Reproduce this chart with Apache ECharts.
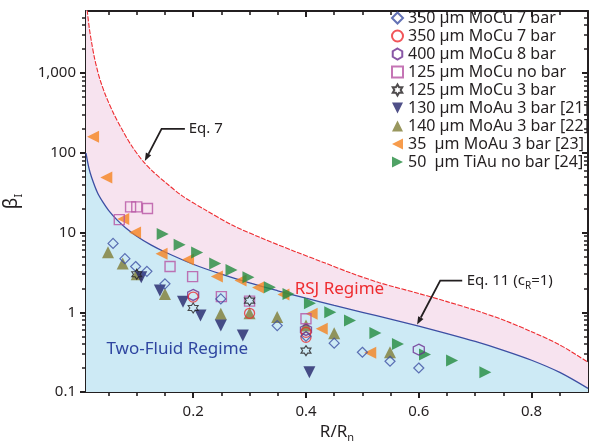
<!DOCTYPE html>
<html>
<head>
<meta charset="utf-8">
<script src="https://cdn.jsdelivr.net/npm/echarts@6/dist/echarts.min.js"></script>
<style>
  html, body { margin: 0; padding: 0; background: #ffffff; }
  #chart { width: 598px; height: 442px; }
</style>
</head>
<body>
<div id="chart"></div>
<script>
// ---- legend labels (two entries share the same text) ----
const seriesKeys = ['d350', 'c350', 'h400', 's125', 'x125', 'v130', 'u140', 'l35', 'r50'];
const seriesLabels = [
  '350 µm MoCu 7 bar',
  '350 µm MoCu 7 bar',
  '400 µm MoCu 8 bar',
  '125 µm MoCu no bar',
  '125 µm MoCu 3 bar',
  '130 µm MoAu 3 bar [21]',
  '140 µm MoAu 3 bar [22]',
  '35  µm MoAu 3 bar [23]',
  '50  µm TiAu no bar [24]'
];

// ---- measured points: [R/Rn, beta] ----
const moCu350Diamond = [[0.058, 7.3], [0.079, 4.7], [0.098, 3.75], [0.118, 3.26], [0.15, 2.27], [0.249, 1.47],
  [0.349, 0.68], [0.4, 0.5], [0.45, 0.41], [0.5, 0.315], [0.549, 0.243], [0.6, 0.2]];
const moCu350Circle = [[0.2, 1.55], [0.3, 0.97], [0.4, 0.56], [0.4, 0.485]];
const moCu400Hex = [[0.2, 1.65], [0.4, 0.6], [0.6, 0.34]];
const moCu125NoBar = [[0.069, 14.5], [0.089, 21], [0.1, 21], [0.119, 20], [0.159, 3.75], [0.199, 2.8],
  [0.25, 1.57], [0.3, 1.38], [0.4, 0.83]];
const moCu125Bar3 = [[0.1, 3.0], [0.2, 1.13], [0.3, 1.4], [0.4, 0.33]];
const moAu130 = [[0.108, 2.75], [0.141, 1.87], [0.182, 1.35], [0.213, 0.91], [0.249, 0.68], [0.288, 0.51], [0.406, 0.177]];
const moAu140 = [[0.049, 5.65], [0.075, 4.1], [0.1, 3.0], [0.15, 1.7], [0.249, 0.955], [0.3, 0.97], [0.349, 0.87],
  [0.4, 0.68], [0.45, 0.546], [0.549, 0.315]];
const moAu35 = [[0.0225, 159], [0.046, 49], [0.076, 14.8], [0.097, 10], [0.144, 5.4], [0.191, 4.6], [0.242, 2.8],
  [0.284, 2.5], [0.315, 2.05], [0.36, 1.67], [0.41, 0.96], [0.428, 0.62], [0.514, 0.31]];
const tiAu50 = [[0.146, 9.6], [0.176, 7.05], [0.207, 5.6], [0.239, 4.1], [0.268, 3.4], [0.298, 2.75], [0.336, 2.06],
  [0.369, 1.7], [0.407, 1.3], [0.443, 1.0], [0.478, 0.79], [0.523, 0.55], [0.563, 0.40], [0.611, 0.295],
  [0.659, 0.248], [0.718, 0.177]];

// ---- boundary curves ----
const eq7Curve = [[0.01, 9000], [0.0125, 5800], [0.016, 3600], [0.02, 2400], [0.025, 1550], [0.03, 1100],
  [0.035, 820], [0.045, 520], [0.06, 300], [0.075, 190], [0.09, 125], [0.11, 80], [0.13, 57], [0.15, 43],
  [0.18, 29], [0.22, 19.5], [0.27, 12.3], [0.32, 8.6], [0.38, 5.8], [0.43, 4.25], [0.48, 3.1], [0.53, 2.35],
  [0.6, 1.72], [0.65, 1.36], [0.7, 1.06], [0.75, 0.8], [0.8, 0.57], [0.85, 0.39], [0.9, 0.236]];
const eq11Curve = [[0.01, 99], [0.015, 65], [0.02, 49], [0.03, 32], [0.04, 24], [0.05, 19], [0.065, 14.4],
  [0.08, 11.5], [0.1, 9.0], [0.125, 7.0], [0.15, 5.7], [0.2, 4.0], [0.25, 3.0], [0.3, 2.33], [0.35, 1.86],
  [0.4, 1.5], [0.45, 1.22], [0.5, 1.0], [0.55, 0.82], [0.6, 0.67], [0.65, 0.54], [0.7, 0.43], [0.75, 0.333],
  [0.8, 0.25], [0.85, 0.176], [0.9, 0.111]];

// ---- tick values ----
const xMinorTicks = [0.05, 0.1, 0.15, 0.25, 0.3, 0.35, 0.45, 0.5, 0.55, 0.65, 0.7, 0.75, 0.85];
const xMajorTicks = [0.2, 0.4, 0.6, 0.8];
const yMajorTicks = [0.1, 1, 10, 100, 1000];
const yMinorTicks = [0.2, 0.3, 0.4, 0.5, 0.6, 0.7, 0.8, 0.9, 2, 3, 4, 5, 6, 7, 8, 9,
  20, 30, 40, 50, 60, 70, 80, 90, 200, 300, 400, 500, 600, 700, 800, 900, 2000, 3000, 4000, 5000];

const INK = '#231f20';
const FONT = 'Noto Sans';
const X_MIN = 0.01, X_MAX = 0.9, Y_MIN = 0.1, Y_MAX = 6000;

// marker outlines
function starPath() {
  const pts = [];
  for (let k = 0; k < 12; k++) {
    const r = k % 2 === 0 ? 10 : 5.77;
    const a = (-90 + k * 30) * Math.PI / 180;
    pts.push((r * Math.cos(a)).toFixed(2) + ',' + (r * Math.sin(a)).toFixed(2));
  }
  return 'path://M' + pts.join(' L') + ' Z';
}
const HEX = 'path://M0,-10 L8.66,-5 L8.66,5 L0,10 L-8.66,5 L-8.66,-5 Z';
const TRI_LEFT = 'path://M10,0 L10,10 L0,5 Z';
const TRI_RIGHT = 'path://M0,0 L10,5 L0,10 Z';
const TRI_DOWN = 'path://M0,0 L10,0 L5,10 Z';

function hollow(key, data, symbol, size, color, width) {
  return {
    name: key, type: 'scatter', data: data, symbol: symbol, symbolSize: size,
    itemStyle: { color: 'rgba(255,255,255,0)', borderColor: color, borderWidth: width || 1.2 },
    z: 5
  };
}
function solid(key, data, symbol, size, color) {
  return {
    name: key, type: 'scatter', data: data, symbol: symbol, symbolSize: size,
    itemStyle: { color: color }, z: 4
  };
}

const chart = echarts.init(document.getElementById('chart'), null, { renderer: 'canvas' });

const xBase = { type: 'value', min: X_MIN, max: X_MAX, splitLine: { show: false } };
const yBase = { type: 'log', logBase: 10, min: Y_MIN, max: Y_MAX, splitLine: { show: false } };
const axisLineStyle = { show: true, lineStyle: { color: INK, width: 2 } };
const tickStyle = function (values, len, width, inside) {
  return { show: true, inside: !!inside, customValues: values, length: len, lineStyle: { color: INK, width: width } };
};

const option = {
  animation: false,
  backgroundColor: '#ffffff',
  textStyle: { fontFamily: FONT },
  grid: { left: 86, right: 10, top: 11, bottom: 50, containLabel: false, outerBoundsMode: 'none' },
  legend: {
    orient: 'vertical', left: 391, top: 10, padding: 0,
    itemWidth: 11, itemHeight: 11, itemGap: 2,
    data: seriesKeys,
    formatter: function (n) { return seriesLabels[seriesKeys.indexOf(n)]; },
    textStyle: { color: INK, fontSize: 16, fontFamily: FONT }
  },
  // bottom/left carry labels and outward ticks; a second axis on each side adds the short minor ticks;
  // top/right mirror them with inward ticks to close the frame
  xAxis: [
    Object.assign({}, xBase, {
      position: 'bottom', axisLine: axisLineStyle,
      axisTick: tickStyle(xMajorTicks, 6, 2),
      axisLabel: { show: true, customValues: xMajorTicks, margin: 12, color: INK, fontSize: 15, fontFamily: FONT,
        formatter: function (v) { return v.toFixed(1); } },
      name: '{t|R/R}{s|n}', nameLocation: 'middle', nameGap: 28,
      nameTextStyle: { rich: {
        t: { fontSize: 17, color: INK, fontFamily: FONT, lineHeight: 22 },
        s: { fontSize: 11, color: INK, fontFamily: FONT, lineHeight: 22, verticalAlign: 'bottom' } } }
    }),
    Object.assign({}, xBase, { position: 'bottom', axisLine: { show: false }, axisTick: tickStyle(xMinorTicks, 4, 1.6), axisLabel: { show: false } }),
    Object.assign({}, xBase, { position: 'top', axisLine: axisLineStyle, axisTick: tickStyle(xMajorTicks, 6, 2, true), axisLabel: { show: false } }),
    Object.assign({}, xBase, { position: 'top', axisLine: { show: false }, axisTick: tickStyle(xMinorTicks, 4, 1.6, true), axisLabel: { show: false } })
  ],
  yAxis: [
    Object.assign({}, yBase, {
      position: 'left', axisLine: axisLineStyle,
      axisTick: tickStyle(yMajorTicks, 6, 2),
      axisLabel: { show: true, customValues: yMajorTicks, margin: 10, color: INK, fontSize: 15, fontFamily: FONT,
        formatter: function (v) { return v >= 1000 ? v.toLocaleString('en-US') : String(v); } },
      name: '{b|β}{s|I}', nameLocation: 'middle', nameGap: 62, nameRotate: 90,
      nameTextStyle: { rich: {
        b: { fontSize: 19, color: INK, fontFamily: FONT, lineHeight: 24 },
        s: { fontSize: 11, color: INK, fontFamily: FONT, lineHeight: 24, verticalAlign: 'bottom' } } }
    }),
    Object.assign({}, yBase, { position: 'left', axisLine: { show: false }, axisTick: tickStyle(yMinorTicks, 4, 1.5), axisLabel: { show: false } }),
    Object.assign({}, yBase, { position: 'right', axisLine: axisLineStyle, axisTick: tickStyle(yMajorTicks, 6, 2, true), axisLabel: { show: false } }),
    Object.assign({}, yBase, { position: 'right', axisLine: { show: false }, axisTick: tickStyle(yMinorTicks, 4, 1.5, true), axisLabel: { show: false } })
  ],
  series: [
    {
      name: 'eq7', type: 'line', data: eq7Curve, smooth: 0.3, showSymbol: false, silent: true,
      lineStyle: { color: '#ee2b2f', width: 1.1, type: [5, 1.5] },
      areaStyle: { color: '#f7e3ef', opacity: 1, origin: 'start' }, z: 1
    },
    {
      name: 'eq11', type: 'line', data: eq11Curve, smooth: 0.3, showSymbol: false, silent: true,
      lineStyle: { color: '#3c4fa3', width: 1.3 },
      areaStyle: { color: '#cdeaf5', opacity: 1, origin: 'start' }, z: 2
    },
    solid('l35', moAu35, TRI_LEFT, 12, '#f5831f'),
    solid('r50', tiAu50, TRI_RIGHT, 12, '#238b3f'),
    solid('u140', moAu140, 'triangle', 12, '#7f7d36'),
    solid('v130', moAu130, TRI_DOWN, 12, '#23246a'),
    hollow('s125', moCu125NoBar, 'rect', 10, '#b652a2', 1.4),
    hollow('h400', moCu400Hex, HEX, 11, '#6a2c8f', 1.3),
    hollow('c350', moCu350Circle, 'circle', 10, '#ee2b2f', 1.3),
    hollow('d350', moCu350Diamond, 'diamond', 10, '#3c4fa3', 1.2),
    hollow('x125', moCu125Bar3, starPath(), 10, INK, 1.1)
  ]
};

chart.setOption(option);

// annotations anchored in data space
function px(x, y) { return chart.convertToPixel({ xAxisIndex: 0, yAxisIndex: 0 }, [x, y]); }
function arrow(path) {
  const pts = path.map(function (p) { return px(p[0], p[1]); });
  const tip = pts[pts.length - 1], prev = pts[pts.length - 2];
  const ang = Math.atan2(tip[1] - prev[1], tip[0] - prev[0]);
  const L = 8, W = 3;
  const bx = tip[0] - L * Math.cos(ang), by = tip[1] - L * Math.sin(ang);
  const head = [tip, [bx + W * Math.sin(ang), by - W * Math.cos(ang)], [bx - W * Math.sin(ang), by + W * Math.cos(ang)]];
  return [
    { type: 'polyline', shape: { points: pts.slice(0, -1).concat([[bx, by]]) }, style: { stroke: INK, lineWidth: 1.8, fill: null }, z: 20 },
    { type: 'polygon', shape: { points: head }, style: { fill: INK }, z: 20 }
  ];
}
function label(x, y, text, rich) {
  const p = px(x, y);
  return { type: 'text', x: p[0], y: p[1], z: 20,
    style: { text: text, rich: rich, verticalAlign: 'middle', align: 'left', fontFamily: FONT } };
}
const eqRich = {
  t: { fontSize: 15, fill: INK, fontFamily: FONT, lineHeight: 20 },
  s: { fontSize: 10, fill: INK, fontFamily: FONT, lineHeight: 20, verticalAlign: 'bottom' }
};
const graphics = []
  .concat(arrow([[0.1853, 199], [0.144, 199], [0.1143, 79]]))
  .concat(arrow([[0.677, 2.49], [0.638, 2.49], [0.597, 0.70]]))
  .concat([
    label(0.192, 199, '{t|Eq. 7}', eqRich),
    label(0.685, 2.49, '{t|Eq. 11 (c}{s|R}{t|=1)}', eqRich),
    label(0.38, 1.96, '{r|RSJ Regime}', { r: { fontSize: 17, fill: '#ee2b2f', fontFamily: FONT } }),
    label(0.0463, 0.34, '{b|Two-Fluid Regime}', { b: { fontSize: 17, fill: '#2e45a0', fontFamily: FONT } })
  ]);
chart.setOption({ graphic: { elements: graphics } });
</script>
</body>
</html>
